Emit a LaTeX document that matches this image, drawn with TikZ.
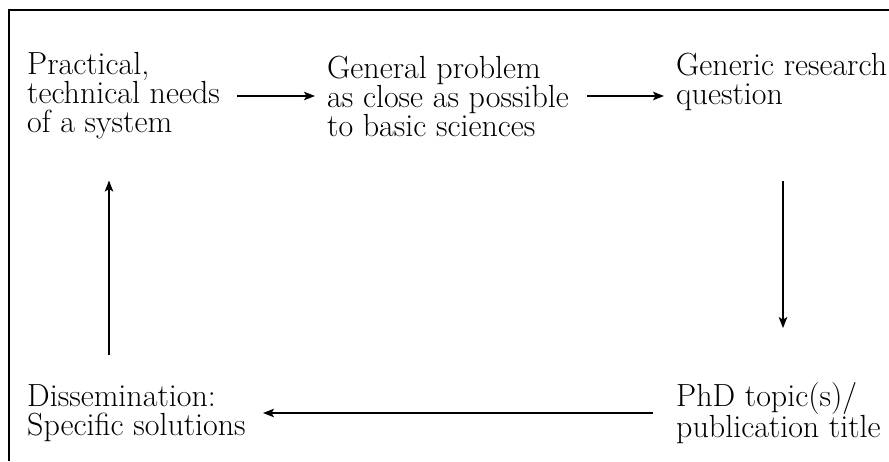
\documentclass[tikz,border=0pt]{standalone}
\usepackage{tikz}
\usetikzlibrary{arrows.meta,positioning}

\tikzset{
  txt/.style={anchor=west, align=left, inner sep=0pt, font=\fontsize{32}{29}\selectfont},
  arr/.style={line width=1.5pt, -{Stealth[length=11pt,width=8.5pt,inset=2.5pt]}}
}

\begin{document}
\begin{tikzpicture}[x=1pt,y=-1pt]
\useasboundingbox (0,0) rectangle (889,461);
\draw[line width=1.5pt] (9,461) |- (889,10);
\node[txt] (needs) at (27,96) {Practical,\\technical needs\\of a system};
\node[txt] (problem) at (327,96) {General problem\\as close as possible\\to basic sciences};
\node[txt] (question) at (676,82) {Generic research\\question};
\node[txt] (topic) at (676,413) {PhD topic(s)/\\publication title};
\node[txt] (dissem) at (27,413) {Dissemination:\\Specific solutions};
% cycle
\draw[arr] ([xshift=210pt]needs.west) -- ([xshift=-12pt]problem.west);
\draw[arr] ([xshift=260pt]problem.west) -- ([xshift=-12pt]question.west |- problem);
\draw[arr] ([xshift=107pt,yshift=-70pt]question.south west) -- ([xshift=107pt,yshift=54pt]topic.north west);
\draw[arr] ([xshift=-23pt]topic.west) -- ([xshift=236pt]dissem.west);
\draw[arr] ([xshift=82pt,yshift=29pt]dissem.north west) -- ([xshift=82pt,yshift=-41pt]needs.south west);
\end{tikzpicture}
\end{document}
